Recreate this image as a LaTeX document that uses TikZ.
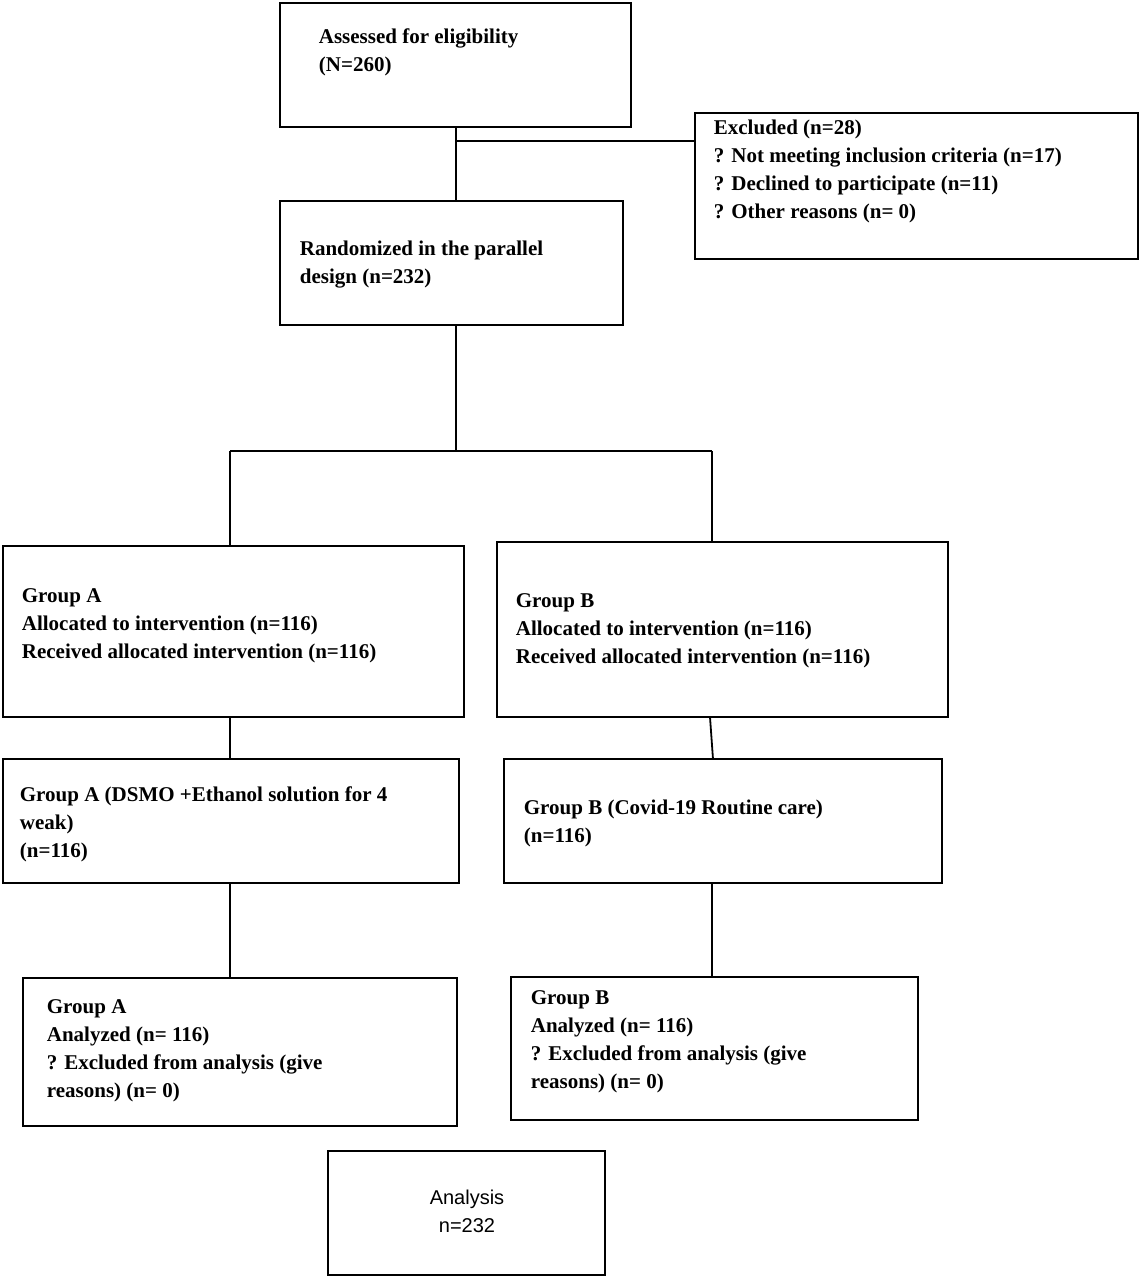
\documentclass[tikz,border=0pt]{standalone}
\usepackage{fontspec}
\setmainfont{Liberation Serif}
\newfontfamily\sansf{Liberation Sans}
\begin{document}
\begin{tikzpicture}[x=0.5pt,y=-0.5pt,line width=0.9pt,
  box/.style={draw=black},
  txt/.style={anchor=west,inner sep=0pt,align=left,font=\fontsize{10.5}{14}\selectfont\bfseries}]
\useasboundingbox (0,0) rectangle (1143,1280);
\draw[box] (280,3) rectangle (631,127);
\draw[box] (695,113) rectangle (1138,259);
\draw[box] (280,201) rectangle (623,325);
\draw[box] (3,546) rectangle (464,717);
\draw[box] (497,542) rectangle (948,717);
\draw[box] (3,759) rectangle (459,883);
\draw[box] (504,759) rectangle (942,883);
\draw[box] (23,978) rectangle (457,1126);
\draw[box] (511,977) rectangle (918,1120);
\draw[box] (328,1151) rectangle (605,1275);
\node[txt] (t1) at (318,52) {Assessed for eligibility\\(N=260)};
\node[txt] (t2) at (713,171) {Excluded (n=28)\\? Not meeting inclusion criteria (n=17)\\? Declined to participate (n=11)\\? Other reasons (n= 0)};
\node[txt] (t3) at (299,265) {Randomized in the parallel\\design (n=232)};
\node[txt] (t4) at (21,626) {Group A\\Allocated to intervention (n=116)\\Received allocated intervention (n=116)};
\node[txt] (t5) at (515,631) {Group B\\Allocated to intervention (n=116)\\Received allocated intervention (n=116)};
\node[txt] (t6) at (19,824) {Group A (DSMO +Ethanol solution for 4\\weak)\\(n=116)};
\node[txt] (t7) at (523,823) {Group B (Covid-19 Routine care)\\(n=116)};
\node[txt] (t8) at (46,1051) {Group A\\Analyzed (n= 116)\\? Excluded from analysis (give\\reasons) (n= 0)};
\node[txt] (t9) at (530,1042) {Group B\\Analyzed (n= 116)\\? Excluded from analysis (give\\reasons) (n= 0)};
\node[inner sep=0pt,align=center,font=\sansf\fontsize{10}{14}\selectfont] (t10) at (467,1211) {Analysis\\n=232};
\coordinate (a1) at (456,127); \coordinate (a2) at (456,201);
\coordinate (e1) at (456,141); \coordinate (e2) at (695,141);
\coordinate (r1) at (456,325); \coordinate (r2) at (456,451);
\coordinate (hl) at (230,451); \coordinate (hr) at (712,451);
\coordinate (ga) at (230,546); \coordinate (gb) at (712,542);
\draw (a1)--(a2); \draw (e1)--(e2);
\draw (r1)--(r2); \draw (hl)--(hr); \draw (hl)--(ga); \draw (hr)--(gb);
\draw (230,717)--(230,759); \draw (710,717)--(713,759);
\draw (230,883)--(230,978); \draw (712,883)--(712,977);
\end{tikzpicture}
\end{document}
